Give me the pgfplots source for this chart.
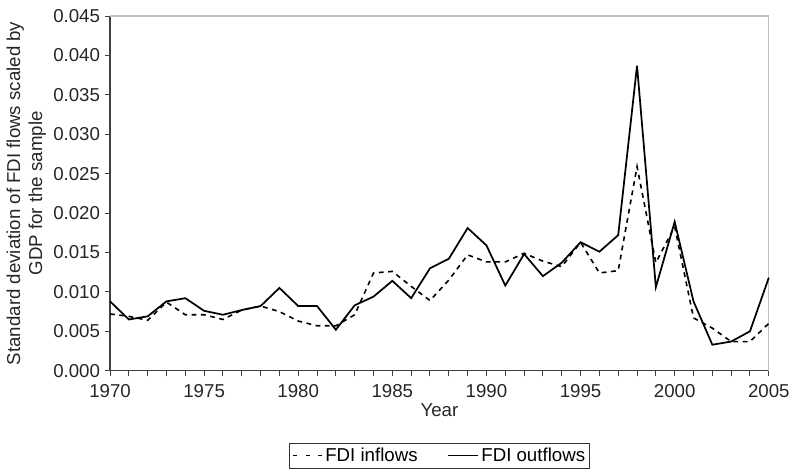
\documentclass[border=0pt]{standalone}
\usepackage{fontspec}
\setmainfont{Liberation Sans}
\usepackage{pgfplots}
\pgfplotsset{compat=1.18}
\begin{document}
\begin{tikzpicture}
\begin{axis}[
  scale only axis,
  width=494pt, height=266pt,
  xmin=1970, xmax=2005, ymin=0, ymax=0.045,
  axis lines*=left,
  axis line style={black!75, line width=1pt},
  tick align=outside,
  xtick={1970,1975,...,2005},
  minor xtick={1970,...,2005},
  ytick={0,0.005,...,0.045},
  major tick length=4pt, minor tick length=4pt,
  every tick/.style={black!75, line width=0.7pt},
  /pgf/number format/assume math mode=true,
  xticklabel style={/pgf/number format/1000 sep={}, yshift=-2.5pt},
  yticklabel style={/pgf/number format/fixed, /pgf/number format/fixed zerofill, /pgf/number format/precision=3},
  scaled y ticks=false,
  tick label style={font=\fontsize{14}{16}\selectfont, text=black!85},
  label style={font=\fontsize{14}{16.5}\selectfont, text=black!85},
  xlabel={Year},
  xlabel style={yshift=2pt},
  ylabel={Standard deviation of FDI flows scaled by\\GDP for the sample},
  ylabel style={align=center, yshift=-1.5pt},
  legend columns=2,
  legend style={at={(rel axis cs:0.5,-0.203)}, anchor=north, draw=black!80, line width=0.7pt, font=\fontsize{14}{16}\selectfont, /tikz/every even column/.append style={column sep=20pt}, inner sep=1.5pt, cells={anchor=west}},
  clip=false,
]
\draw[gray!50, line width=0.8pt] (rel axis cs:0,1) -- (rel axis cs:1,1) -- (rel axis cs:1,0);
\path (rel axis cs:0,0) -- ++(-82.5pt,-74.2pt);
\path (rel axis cs:1,1) -- ++(18.7pt,12pt);
\addplot[black, line width=1.2pt, dash pattern=on 3.6pt off 3.4pt,
  legend image code/.code={\draw[black, line width=1.2pt, dash pattern=on 3pt off 6.5pt, dash phase=-1pt] (0pt,0pt) -- (22.5pt,0pt);}] coordinates {
(1970,0.0072)(1971,0.0069)(1972,0.0064)(1973,0.0087)(1974,0.0071)(1975,0.0071)(1976,0.0065)(1977,0.0077)(1978,0.0082)(1979,0.0075)
(1980,0.0063)(1981,0.0057)(1982,0.0057)(1983,0.0071)(1984,0.0124)(1985,0.0126)(1986,0.0107)(1987,0.0089)(1988,0.0115)(1989,0.0147)
(1990,0.0138)(1991,0.0138)(1992,0.0149)(1993,0.0139)(1994,0.0132)(1995,0.0163)(1996,0.0124)(1997,0.0127)(1998,0.0259)(1999,0.0137)
(2000,0.0183)(2001,0.0067)(2002,0.0054)(2003,0.0037)(2004,0.0037)(2005,0.0060)};
\addlegendentry{FDI inflows}
\addplot[black, line width=1.3pt,
  legend image code/.code={\draw[black, line width=1.3pt] (0pt,0pt) -- (22.5pt,0pt);}] coordinates {
(1970,0.0088)(1971,0.0065)(1972,0.0069)(1973,0.0088)(1974,0.0092)(1975,0.0076)(1976,0.0071)(1977,0.0077)(1978,0.0082)(1979,0.0105)
(1980,0.0082)(1981,0.0082)(1982,0.0052)(1983,0.0083)(1984,0.0094)(1985,0.0114)(1986,0.0092)(1987,0.0130)(1988,0.0142)(1989,0.0181)
(1990,0.0159)(1991,0.0108)(1992,0.0148)(1993,0.0120)(1994,0.0137)(1995,0.0163)(1996,0.0151)(1997,0.0172)(1998,0.0387)(1999,0.0106)
(2000,0.0189)(2001,0.0088)(2002,0.0033)(2003,0.0037)(2004,0.0050)(2005,0.0118)};
\addlegendentry{FDI outflows}
\end{axis}
\end{tikzpicture}
\end{document}
